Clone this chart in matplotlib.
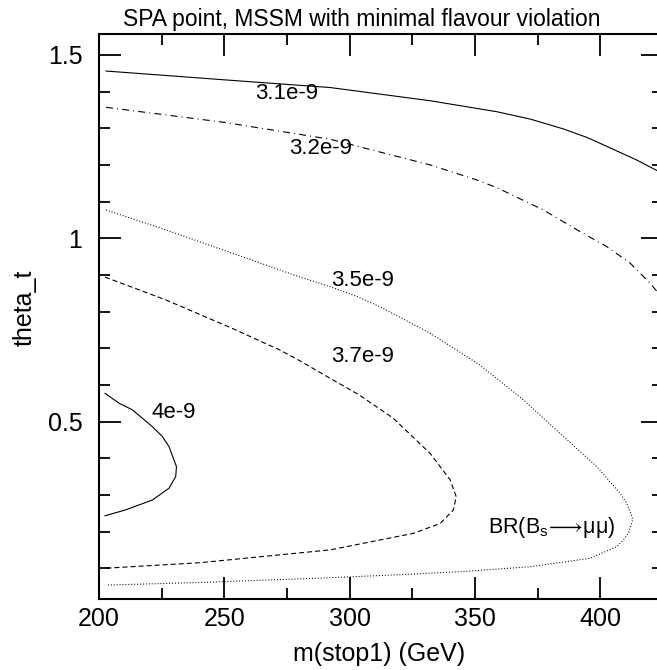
import matplotlib
matplotlib.use("Agg")
import matplotlib.pyplot as plt
from matplotlib.ticker import MultipleLocator

plt.rcParams['font.family'] = ['Liberation Sans', 'DejaVu Sans']
plt.rcParams['mathtext.fontset'] = 'custom'
plt.rcParams['mathtext.rm'] = 'Liberation Sans'
plt.rcParams['mathtext.it'] = 'Liberation Sans:italic'
plt.rcParams['lines.scale_dashes'] = False

# contour BR = 3.1e-9 (solid)
m31 = [202.8, 250.0, 292.2, 332.1, 358.7, 372.0, 385.3, 395.0, 405.0, 414.6, 425.0]
t31 = [1.456, 1.432, 1.411, 1.375, 1.345, 1.325, 1.298, 1.274, 1.243, 1.213, 1.176]

# contour BR = 3.2e-9 (dash-dot)
m32 = [202.8, 250.0, 292.2, 332.1, 350.7, 358.7, 377.3, 391.9, 402.6, 411.9, 419.9, 425.0]
t32 = [1.357, 1.316, 1.270, 1.200, 1.159, 1.138, 1.077, 1.018, 0.977, 0.932, 0.877, 0.835]

# contour BR = 3.5e-9 (dotted)
m35 = [202.8, 226.6, 253.2, 279.8, 292.2, 303.7, 312.1, 332.1, 352.0, 369.3, 385.3,
       398.6, 407.9, 410.5, 412.6, 412.9, 411.2, 409.2, 406.6, 395.9, 372.0, 345.4,
       318.8, 292.2, 240.3, 202.8]
t35 = [1.077, 1.023, 0.959, 0.895, 0.868, 0.839, 0.813, 0.741, 0.654, 0.559, 0.459,
       0.377, 0.304, 0.277, 0.241, 0.232, 0.195, 0.177, 0.159, 0.127, 0.104, 0.091,
       0.082, 0.074, 0.061, 0.054]

# contour BR = 3.7e-9 (dashed)
m37 = [202.4, 226.6, 253.2, 272.2, 279.8, 292.2, 303.7, 317.4, 332.1, 340.1, 342.5,
       341.4, 336.1, 325.4, 305.5, 292.2, 240.3, 202.8]
t37 = [0.894, 0.832, 0.754, 0.695, 0.667, 0.618, 0.573, 0.509, 0.413, 0.341, 0.295,
       0.259, 0.222, 0.195, 0.168, 0.150, 0.115, 0.100]

# contour BR = 4e-9 (solid)
m40 = [202.4, 208.0, 213.3, 221.3, 225.3, 227.9, 230.9, 230.6, 227.9, 221.3, 210.6, 202.4]
t40 = [0.577, 0.550, 0.532, 0.486, 0.459, 0.432, 0.377, 0.350, 0.318, 0.286, 0.259, 0.243]

labels = ['3.1e-9', '3.2e-9', '3.5e-9', '3.7e-9', '4e-9']
label_m = [275.0, 288.2, 305.1, 305.1, 229.9]
label_t = [1.396, 1.245, 0.886, 0.678, 0.525]


def make_plot():
    fig = plt.figure(figsize=(6.57, 6.70), dpi=100)
    ax = fig.add_axes([99 / 657, 71 / 670, 564 / 657, 565 / 670])

    lw = 0.8
    ax.plot(m31, t31, color='k', lw=lw, ls='-')
    ax.plot(m32, t32, color='k', lw=lw, ls=(0, (5, 3, 0.7, 3)))
    ax.plot(m35, t35, color='k', lw=lw, ls=(0, (0.7, 1.4)))
    ax.plot(m37, t37, color='k', lw=lw, ls=(0, (3.6, 2.2)))
    ax.plot(m40, t40, color='k', lw=lw, ls='-')

    for txt, x, y in zip(labels, label_m, label_t):
        ax.text(x, y, txt, fontsize=16, ha='center', va='center')
    ax.text(355.0, 0.196, r'BR(B$_{\rm s}\!\longrightarrow\!$μμ)', fontsize=15.5,
            ha='left', va='baseline')

    ax.set_xlim(200, 425)
    ax.set_ylim(0.016, 1.557)
    ax.xaxis.set_minor_locator(MultipleLocator(25))
    ax.yaxis.set_minor_locator(MultipleLocator(0.1))
    ax.set_xticks([200, 250, 300, 350, 400])
    ax.set_xticklabels(['200', '250', '300', '350', '400'])
    ax.set_yticks([0.5, 1.0, 1.5])
    ax.set_yticklabels(['0.5', '1', '1.5'])

    ax.tick_params(which='both', direction='in', top=True, right=True, width=1.3, labelsize=18)
    ax.tick_params(which='major', length=16)
    ax.tick_params(which='minor', length=8)
    ax.tick_params(axis='x', pad=6)
    ax.tick_params(axis='y', pad=12)
    for s in ax.spines.values():
        s.set_linewidth(1.5)

    fig.text(362 / 657, 1 - 26 / 670, 'SPA point, MSSM with minimal flavour violation',
             fontsize=16.5, ha='center', va='baseline')
    fig.text(379 / 657, 9 / 670, 'm(stop1) (GeV)', fontsize=18, ha='center', va='baseline')
    fig.text(25 / 657, 1 - 308 / 670, 'theta_t', fontsize=18, rotation=90, ha='center', va='center')

    fig.savefig('out.png', dpi=100)


if __name__ == '__main__':
    make_plot()
